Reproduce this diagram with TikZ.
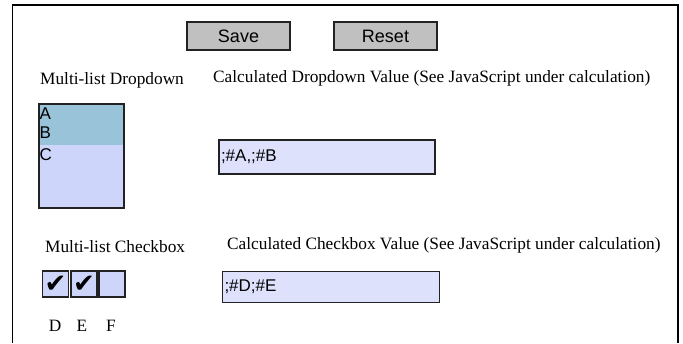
\documentclass[tikz,border=0pt]{standalone}
\usepackage{fontspec}
\setmainfont{Liberation Serif}
\newfontfamily\fieldfont{Liberation Sans}
\newfontfamily\symfont{DejaVu Sans}
\usetikzlibrary{positioning}
\definecolor{btngray}{HTML}{C0C0C0}
\definecolor{listfill}{HTML}{CDD5FA}
\definecolor{selfill}{HTML}{99C3D8}
\definecolor{fieldfill}{HTML}{DDE1FC}
\definecolor{edgegray}{HTML}{222222}

\begin{document}
\begin{tikzpicture}[x=1pt,y=-1pt,
  label/.style={inner sep=0pt,font=\fontsize{17.3}{20}\selectfont},
  btn/.style={rectangle,draw=edgegray,line width=1.6pt,fill=btngray,minimum width=103pt,minimum height=28pt,inner sep=0pt,font=\fieldfont\fontsize{18}{20}\selectfont},
  field/.style={rectangle,draw=edgegray,line width=1.6pt,fill=fieldfill,inner xsep=2pt,inner ysep=0pt,text width=212pt,align=left,font=\fieldfont\fontsize{17}{19}\selectfont},
  cbox/.style={rectangle,draw=edgegray,line width=1.6pt,fill=listfill,minimum size=26pt,inner sep=0pt,font=\symfont\fontsize{26}{28}\selectfont},
  item/.style={anchor=west,inner sep=0pt,font=\fieldfont\fontsize{17}{19}\selectfont}]
  \useasboundingbox (0,0) rectangle (683,343);
  % --- frame ---
  \coordinate (fbl) at (12.5,343);
  \coordinate (ftl) at (12.5,5);
  \coordinate (ftr) at (678,5);
  \coordinate (fbr) at (678,343);
  \draw[line width=1.3pt] (fbl) -- (ftl) -- (ftr) -- (fbr);
  % --- buttons ---
  \node[btn] (save) at (238.5,36) {Save};
  \node[btn] (reset) at (385.5,36) {Reset};
  % --- dropdown ---
  \node[label,anchor=west] (ddlab) at (40,80) {Multi-list Dropdown};
  \node[label,anchor=west] (ddcalc) at (213,78) {Calculated Dropdown Value (See JavaScript under calculation)};
  \fill[listfill] (39,104) rectangle (124,208);
  \fill[selfill] (39,104) rectangle (124,145);
  \node[rectangle,draw=edgegray,line width=1.6pt,minimum width=85pt,minimum height=104pt] (list) at (81.5,156) {};
  \node[item] (ia) at (39.5,114) {A};
  \node[item] (ib) at (39.5,133) {B};
  \node[item] (ic) at (39.5,155) {C};
  \node[field,minimum height=34pt] (ddval) at (327,157) {;\#A,;\#B};
  % --- checkboxes ---
  \node[label,anchor=west] (cblab) at (45,247) {Multi-list Checkbox};
  \node[label,anchor=west] (cbcalc) at (227,245) {Calculated Checkbox Value (See JavaScript under calculation)};
  \node[cbox] (cd) at (55.5,284) {✔};
  \node[cbox] (ce) at (84,284) {✔};
  \node[cbox] (cf) at (112,284) {};
  \node[label] (ld) at (55,326) {D};
  \node[label] (le) at (82,326) {E};
  \node[label] (lf) at (111,326) {F};
  \node[field,minimum height=31pt,text width=213pt] (cbval) at (331,287) {;\#D;\#E};
\end{tikzpicture}
\end{document}
